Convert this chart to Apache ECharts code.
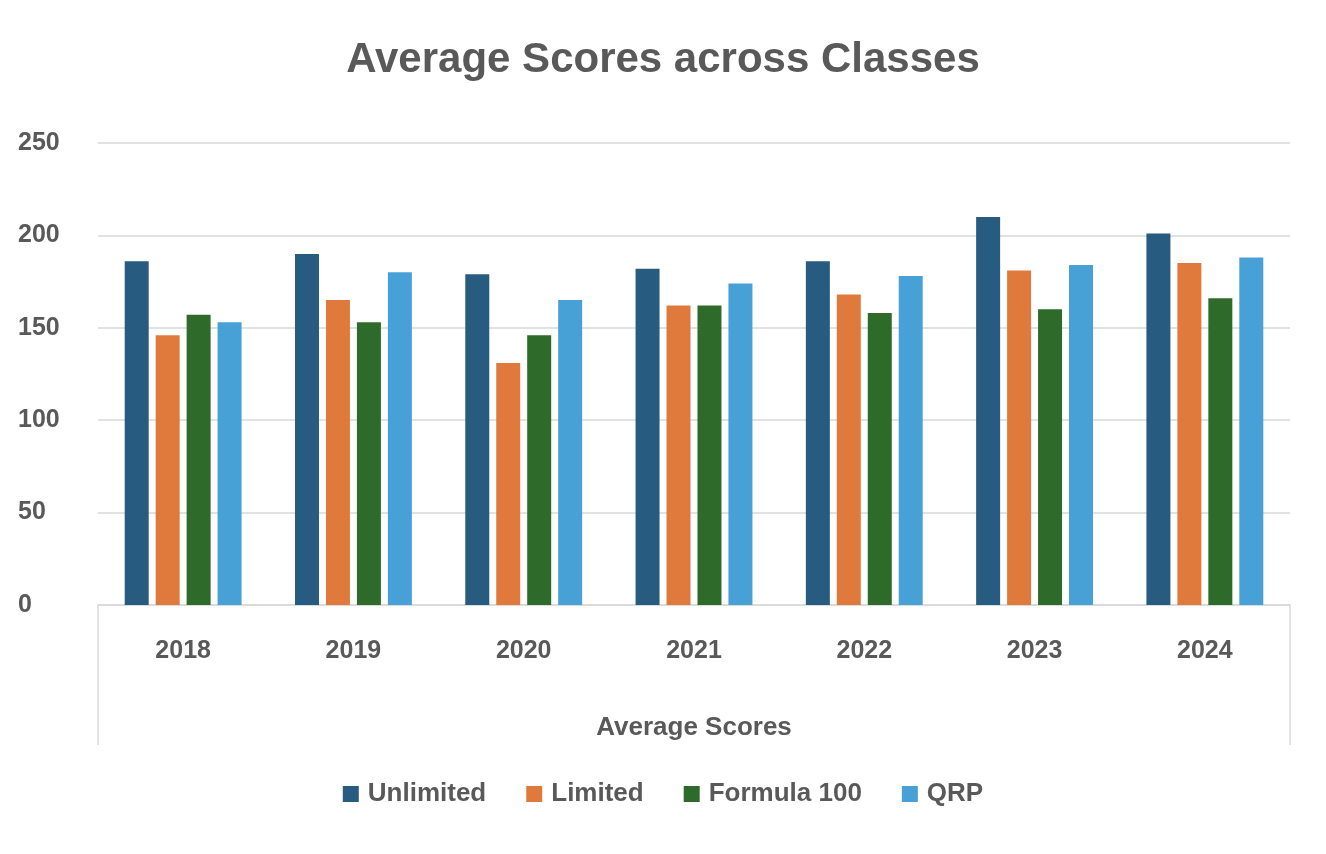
<!DOCTYPE html><html><head><meta charset="utf-8">
<script src="https://cdn.jsdelivr.net/npm/echarts@6/dist/echarts.min.js"></script>
<style>html,body{margin:0;background:#fff}#c{width:1326px;height:854px}</style></head><body><div id="c"></div>
<script>
const categories=['2018','2019','2020','2021','2022','2023','2024'];
const unlimited=[186,190,179,182,186,210,201];
const limited=[146,165,131,162,168,181,185];
const formula100=[157,153,146,162,158,160,166];
const qrp=[153,180,165,174,178,184,188];
const yTicks=[0,50,100,150,200,250];
const chart=echarts.init(document.getElementById('c'));
const font='"Liberation Sans", Arial, sans-serif';
const mk=(name,data,color)=>({name,type:'bar',data,barWidth:24,barGap:'29%',itemStyle:{color}});
chart.setOption({
 animation:false,
 textStyle:{fontFamily:font},
 title:{text:'Average Scores across Classes',left:'center',top:34,textStyle:{fontSize:42,fontWeight:'bold',color:'#595959',fontFamily:font}},
 grid:{left:98,right:36,top:143,bottom:249},
 legend:{bottom:42,left:'center',itemWidth:16,itemHeight:16,itemGap:40,icon:'rect',textStyle:{fontSize:26,fontWeight:'bold',color:'#595959',padding:[0,0,0,4]}},
 xAxis:{type:'category',data:categories,name:'Average Scores',nameLocation:'middle',nameGap:110,
  nameTextStyle:{fontSize:26,fontWeight:'bold',color:'#595959'},
  axisLine:{lineStyle:{color:'#d9d9d9',width:1.5}},axisTick:{show:false},
  axisLabel:{fontSize:25,fontWeight:'bold',color:'#595959',margin:34}},
 yAxis:{type:'value',min:0,max:250,interval:50,
  axisLabel:{fontSize:25,fontWeight:'bold',color:'#595959',margin:80,align:'left'},
  splitLine:{lineStyle:{color:'#d9d9d9',width:1.5}}},
 graphic:[
  {type:'line',shape:{x1:98,y1:605,x2:98,y2:745},style:{stroke:'#d9d9d9',lineWidth:1.5}},
  {type:'line',shape:{x1:1290,y1:605,x2:1290,y2:745},style:{stroke:'#d9d9d9',lineWidth:1.5}}
 ],
 series:[mk('Unlimited',unlimited,'#275b80'),mk('Limited',limited,'#e07a3c'),mk('Formula 100',formula100,'#2e6b2b'),mk('QRP',qrp,'#47a1d7')]
});
</script></body></html>
